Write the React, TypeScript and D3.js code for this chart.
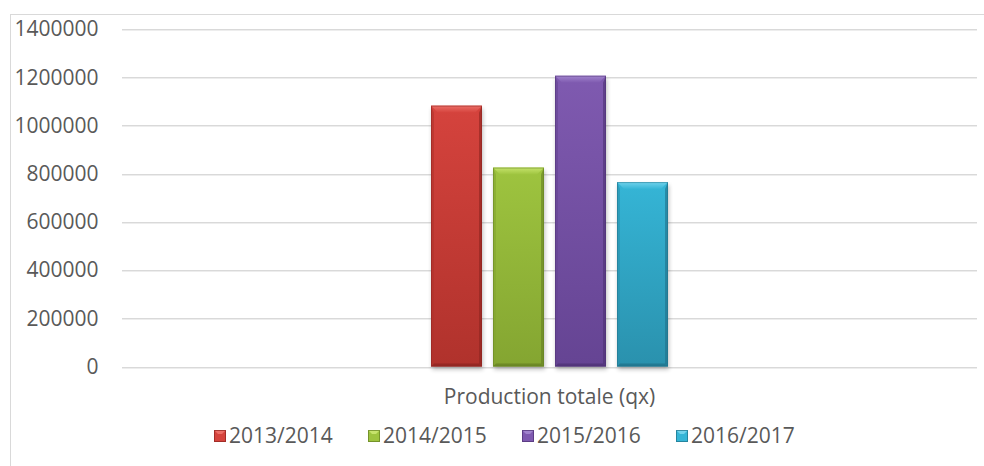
import React from "react";
import * as d3 from "d3";

const categories = ["Production totale (qx)"];
const seriesNames = ["2013/2014", "2014/2015", "2015/2016", "2016/2017"];
const seriesValues = [1082000, 825000, 1206000, 765000];
const yTicks = [0, 200000, 400000, 600000, 800000, 1000000, 1200000, 1400000];

const palette = [
  { face: "#d5433d", top: "#ec6e67", dark: "#b0322c", edge: "#8c2420" },
  { face: "#9ec43f", top: "#c6e36c", dark: "#84a531", edge: "#647f22" },
  { face: "#7f5ab0", top: "#a184cd", dark: "#654493", edge: "#4d3173" },
  { face: "#35b5d6", top: "#72d3ec", dark: "#2a91ad", edge: "#1f7088" },
];

const W = 984;
const H = 466;
const plotLeft = 122;
const plotRight = 977;
const yBottom = 366.5;
const yTop = 29;
const FONT = "'Open Sans', 'Noto Sans', sans-serif";
const TEXT = "#595959";
const FS = 21;

export default function App() {
  const y = d3.scaleLinear().domain([0, 1400000]).range([yBottom, yTop]);
  const x0 = d3.scaleBand().domain(categories).range([plotLeft, plotRight]);
  const groupW = 237;
  const x1 = d3
    .scaleBand()
    .domain(seriesNames)
    .range([0, groupW])
    .paddingInner(11 / 62)
    .paddingOuter(0);
  const bw = x1.bandwidth();
  const legendX = d3.scalePoint().domain(seriesNames).range([214, 676]);

  return (
    <svg
      width={W}
      height={H}
      style={{ position: "absolute", left: 0, top: 0, background: "#fff" }}
      fontFamily={FONT}
    >
      <defs>
        <filter id="shadow" x="-30%" y="-30%" width="160%" height="160%">
          <feGaussianBlur stdDeviation="2" />
        </filter>
        {palette.map((p, i) => (
          <React.Fragment key={i}>
            <linearGradient id={`face${i}`} x1="0" y1="0" x2="0" y2="1">
              <stop offset="0" stopColor={p.face} />
              <stop offset="1" stopColor={p.dark} />
            </linearGradient>
            <linearGradient id={`top${i}`} x1="0" y1="0" x2="0" y2="1">
              <stop offset="0" stopColor={p.top} />
              <stop offset="1" stopColor={p.face} />
            </linearGradient>
          </React.Fragment>
        ))}
      </defs>
      <rect x={0} y={0} width={W} height={H} fill="#fff" />
      <rect
        x={10.5}
        y={14.5}
        width={1000}
        height={500}
        fill="none"
        stroke="#d9d9d9"
        strokeWidth={1}
      />
      {yTicks.map((t) => (
        <g key={t}>
          <line
            x1={plotLeft}
            x2={plotRight}
            y1={Math.round(y(t)) + 1.5}
            y2={Math.round(y(t)) + 1.5}
            stroke="#ededed"
          />
          <line
            x1={plotLeft}
            x2={plotRight}
            y1={Math.round(y(t)) + 0.5}
            y2={Math.round(y(t)) + 0.5}
            stroke="#d9d9d9"
          />
          <text
            x={98.5}
            y={y(t)}
            dy="0.35em"
            textAnchor="end"
            fontSize={FS}
            fill={TEXT}
          >
            {t}
          </text>
        </g>
      ))}
      {categories.map((c) => {
        const gx = (x0(c) as number) + x0.bandwidth() / 2 - groupW / 2;
        return (
          <g key={c}>
            {seriesNames.map((s, i) => {
              const bx = gx + (x1(s) as number);
              const by = y(seriesValues[i]);
              const bh = y(0) - by;
              const b = 7;
              const sb = 3;
              const p = palette[i];
              return (
                <g key={s}>
                  <rect
                    x={bx + 1}
                    y={by + 3}
                    width={bw}
                    height={bh}
                    fill="#000"
                    opacity={0.25}
                    filter="url(#shadow)"
                  />
                  <rect x={bx} y={by} width={bw} height={bh} fill={`url(#face${i})`} />
                  <polygon
                    points={`${bx},${by} ${bx + bw},${by} ${bx + bw - b},${by + b} ${bx + b},${by + b}`}
                    fill={`url(#top${i})`}
                  />
                  <polygon
                    points={`${bx},${by} ${bx + sb},${by + b} ${bx + sb},${by + bh - sb} ${bx},${by + bh}`}
                    fill={p.dark}
                    opacity={0.6}
                  />
                  <polygon
                    points={`${bx + bw},${by} ${bx + bw - sb},${by + b} ${bx + bw - sb},${by + bh - sb} ${bx + bw},${by + bh}`}
                    fill={p.edge}
                    opacity={0.6}
                  />
                  <polygon
                    points={`${bx},${by + bh} ${bx + sb},${by + bh - sb} ${bx + bw - sb},${by + bh - sb} ${bx + bw},${by + bh}`}
                    fill={p.edge}
                    opacity={0.7}
                  />
                  <rect
                    x={bx + 0.5}
                    y={by + 0.5}
                    width={bw - 1}
                    height={bh - 1}
                    fill="none"
                    stroke={p.edge}
                    strokeOpacity={0.5}
                  />
                </g>
              );
            })}
            <text
              x={(x0(c) as number) + x0.bandwidth() / 2}
              y={397}
              dy="0.35em"
              textAnchor="middle"
              fontSize={FS}
              fill={TEXT}
            >
              {c}
            </text>
          </g>
        );
      })}
      {seriesNames.map((s, i) => {
        const lx = legendX(s) as number;
        const p = palette[i];
        const sq = 12;
        const sy = 436 - sq / 2;
        return (
          <g key={s}>
            <rect x={lx} y={sy} width={sq} height={sq} fill={p.face} />
            <polygon
              points={`${lx},${sy} ${lx + sq},${sy} ${lx + sq - 4},${sy + 4} ${lx + 4},${sy + 4}`}
              fill={p.top}
            />
            <rect
              x={lx + 0.5}
              y={sy + 0.5}
              width={sq - 1}
              height={sq - 1}
              fill="none"
              stroke={p.edge}
              strokeOpacity={0.7}
            />
            <text x={lx + 15} y={436} dy="0.35em" fontSize={FS} fill={TEXT}>
              {s}
            </text>
          </g>
        );
      })}
    </svg>
  );
}
